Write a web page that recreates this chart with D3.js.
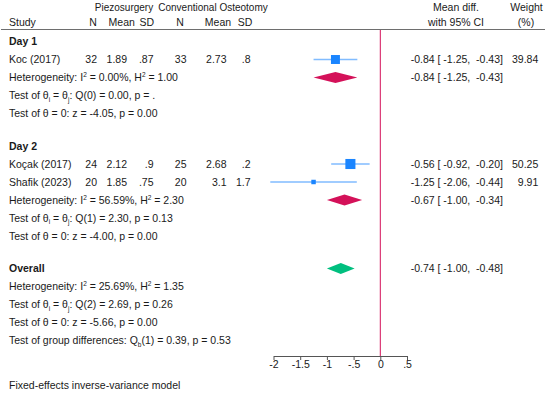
<!DOCTYPE html>
<html>
<head>
<meta charset="utf-8">
<script src="https://cdn.jsdelivr.net/npm/d3@7"></script>
<style>
  body { margin: 0; background: #fff; }
  svg text { font-family: "Liberation Sans", Arial, sans-serif; font-size: 10.5px; fill: #1a1a1a; white-space: pre; }
</style>
</head>
<body>
<div id="forest"></div>
<script>
// study level data
var studyName  = ["Koc (2017)", "Koçak (2017)", "Shafik (2023)"];
var studyGroup = ["Day 1", "Day 2", "Day 2"];
var piezoN     = ["32", "24", "20"];
var piezoMean  = ["1.89", "2.12", "1.85"];
var piezoSD    = [".87", ".9", ".75"];
var convN      = ["33", "25", "20"];
var convMean   = ["2.73", "2.68", "3.1"];
var convSD     = [".8", ".2", "1.7"];
var effect     = [-0.84, -0.56, -1.25];
var ciLow      = [-1.25, -0.92, -2.06];
var ciHigh     = [-0.43, -0.20, -0.44];
var weight     = [39.84, 50.25, 9.91];

// subgroup summaries
var groups     = ["Day 1", "Day 2"];
var grpEffect  = [-0.84, -0.67];
var grpLow     = [-1.25, -1.00];
var grpHigh    = [-0.43, -0.34];
var grpI2      = ["0.00", "56.59"];
var grpH2      = ["1.00", "2.30"];
var grpQdf     = ["0", "1"];
var grpQ       = ["0.00", "2.30"];
var grpQp      = [".", "0.13"];
var grpZ       = ["-4.05", "-4.00"];
var grpZp      = ["0.00", "0.00"];

// overall
var overall    = {effect: -0.74, low: -1.00, high: -0.48, I2: "25.69", H2: "1.35",
                  Qdf: "2", Q: "2.69", Qp: "0.26", z: "-5.66", zp: "0.00"};
var groupDiff  = {df: "1", Q: "0.39", p: "0.53"};

var ticks = [-2, -1.5, -1, -0.5, 0, 0.5];

var W = 550, H = 397;
var svg = d3.select("#forest").append("svg")
  .attr("width", W).attr("height", H);

var x = d3.scaleLinear().domain([-2, 0.5]).range([273.5, 407]);
var fmt = function(v) { return v.toFixed(2); };
var ciText = function(e, l, h) {
  return fmt(e) + " [ " + fmt(l) + ",  " + fmt(h) + "]";
};

// helper: text with sup/sub pieces, shift is undone on the next piece
function rich(x0, y0, parts, bold) {
  var t = svg.append("text").attr("x", x0).attr("y", y0 + 3.8);
  if (bold) t.attr("font-weight", "bold");
  var pending = 0;
  parts.forEach(function(p) {
    if (typeof p === "string") {
      t.append("tspan").attr("dy", pending).text(p);
      pending = 0;
      return;
    }
    var shift = p.sup ? -4 : 2.5;
    t.append("tspan").attr("dy", pending + shift).attr("font-size", "6.5px").text(p.sup || p.sub);
    pending = -shift;
  });
  return t;
}

// row layout
var rows = [];
groups.forEach(function(g, gi) {
  rows.push({kind: "group", gi: gi});
  studyName.forEach(function(s, i) { if (studyGroup[i] === g) rows.push({kind: "study", i: i}); });
  rows.push({kind: "het", gi: gi});
  rows.push({kind: "q", gi: gi});
  rows.push({kind: "z", gi: gi});
  rows.push({kind: "gap"});
});
rows.push({kind: "overall"});
rows.push({kind: "ohet"});
rows.push({kind: "oq"});
rows.push({kind: "oz"});
rows.push({kind: "diff"});

var yPos = 41.5;
rows.forEach(function(r) {
  r.y = yPos;
  yPos += r.kind === "gap" ? 14.5 : 18;
});
rows = rows.filter(function(r) { return r.kind !== "gap"; });

// headers
var hdr = [
  {t: "N", x: 93, y: 22}, {t: "Mean", x: 121.7, y: 22}, {t: "SD", x: 146.7, y: 22},
  {t: "N", x: 180, y: 22}, {t: "Mean", x: 218, y: 22}, {t: "SD", x: 245, y: 22},
  {t: "Mean diff.", x: 456, y: 7}, {t: "with 95% CI", x: 456, y: 22},
  {t: "Weight", x: 526.5, y: 7}, {t: "(%)", x: 526, y: 22}
];
svg.selectAll(".hdr").data(hdr).enter().append("text")
  .attr("x", function(d) { return d.x; })
  .attr("y", function(d) { return d.y + 3.8; })
  .attr("text-anchor", "middle")
  .text(function(d) { return d.t; });
svg.append("text").attr("x", 124).attr("y", 10.8).attr("text-anchor", "middle")
  .style("font-size", "10px").text("Piezosurgery");
svg.append("text").attr("x", 213).attr("y", 10.8).attr("text-anchor", "middle")
  .style("font-size", "10px").text("Conventional Osteotomy");
rich(9, 22, ["Study"]);

svg.append("line")
  .attr("x1", 1).attr("x2", 545).attr("y1", 29.5).attr("y2", 29.5)
  .attr("stroke", "#6e6e6e").attr("stroke-width", 1.2);

// no effect line
svg.append("line")
  .attr("x1", x(0)).attr("x2", x(0)).attr("y1", 30).attr("y2", 356)
  .attr("stroke", "#d41159").attr("stroke-width", 1);

var numCols = [
  {arr: piezoN, x: 97}, {arr: piezoMean, x: 127}, {arr: piezoSD, x: 153.5},
  {arr: convN, x: 186.5}, {arr: convMean, x: 226.5}, {arr: convSD, x: 250.5}
];

function diamond(y, e, l, h, col) {
  var hh = 5.5;
  svg.append("path")
    .attr("d", "M" + x(l) + "," + y + "L" + x(e) + "," + (y - hh) +
               "L" + x(h) + "," + y + "L" + x(e) + "," + (y + hh) + "Z")
    .attr("fill", col);
}

rows.forEach(function(r) {
  var y = r.y, gi = r.gi;
  if (r.kind === "group") {
    rich(9, y, [groups[gi]], true);
  } else if (r.kind === "study") {
    var i = r.i;
    rich(9, y, [studyName[i]]);
    numCols.forEach(function(c) {
      svg.append("text").attr("x", c.x).attr("y", y + 3.8)
        .attr("text-anchor", "end").text(c.arr[i]);
    });
    svg.append("line")
      .attr("x1", x(ciLow[i])).attr("x2", x(ciHigh[i]))
      .attr("y1", y).attr("y2", y)
      .attr("stroke", "#1a85ff").attr("stroke-opacity", 0.55).attr("stroke-width", 1.4);
    var side = 1.42 * Math.sqrt(weight[i]);
    svg.append("rect")
      .attr("x", x(effect[i]) - side / 2).attr("y", y - side / 2)
      .attr("width", side).attr("height", side)
      .attr("fill", "#1a85ff");
    rich(410.7, y, [ciText(effect[i], ciLow[i], ciHigh[i])]);
    svg.append("text").attr("x", 538.3).attr("y", y + 3.8)
      .attr("text-anchor", "end").text(weight[i].toFixed(2));
  } else if (r.kind === "het") {
    rich(9, y, ["Heterogeneity: I", {sup: "2"}, " = " + grpI2[gi] + "%, H", {sup: "2"}, " = " + grpH2[gi]]);
    diamond(y, grpEffect[gi], grpLow[gi], grpHigh[gi], "#d41159");
    rich(410.7, y, [ciText(grpEffect[gi], grpLow[gi], grpHigh[gi])]);
  } else if (r.kind === "q") {
    rich(9, y, ["Test of θ", {sub: "i"}, " = θ", {sub: "j"}, ": Q(" + grpQdf[gi] + ") = " + grpQ[gi] + ", p = " + grpQp[gi]]);
  } else if (r.kind === "z") {
    rich(9, y, ["Test of θ = 0: z = " + grpZ[gi] + ", p = " + grpZp[gi]]);
  } else if (r.kind === "overall") {
    rich(9, y, ["Overall"], true);
    diamond(y, overall.effect, overall.low, overall.high, "#00bf7f");
    rich(410.7, y, [ciText(overall.effect, overall.low, overall.high)]);
  } else if (r.kind === "ohet") {
    rich(9, y, ["Heterogeneity: I", {sup: "2"}, " = " + overall.I2 + "%, H", {sup: "2"}, " = " + overall.H2]);
  } else if (r.kind === "oq") {
    rich(9, y, ["Test of θ", {sub: "i"}, " = θ", {sub: "j"}, ": Q(" + overall.Qdf + ") = " + overall.Q + ", p = " + overall.Qp]);
  } else if (r.kind === "oz") {
    rich(9, y, ["Test of θ = 0: z = " + overall.z + ", p = " + overall.zp]);
  } else if (r.kind === "diff") {
    rich(9, y, ["Test of group differences: Q", {sub: "b"}, "(" + groupDiff.df + ") = " + groupDiff.Q + ", p = " + groupDiff.p]);
  }
});

// x axis
var axis = svg.append("g")
  .attr("transform", "translate(0,356)")
  .call(d3.axisBottom(x).tickValues(ticks).tickSize(4).tickSizeOuter(0)
    .tickFormat(function(d) { return d === 0 ? "0" : String(d).replace("0.", "."); }));
axis.select(".domain").attr("stroke", "#555");
axis.selectAll(".tick line").attr("stroke", "#555");
axis.selectAll("text")
  .attr("font-family", "Liberation Sans, Arial, sans-serif")
  .attr("font-size", "10.5px").attr("fill", "#1a1a1a").attr("dy", "0.6em").attr("y", 6);

rich(9, 385, ["Fixed-effects inverse-variance model"]);
</script>
</body>
</html>
